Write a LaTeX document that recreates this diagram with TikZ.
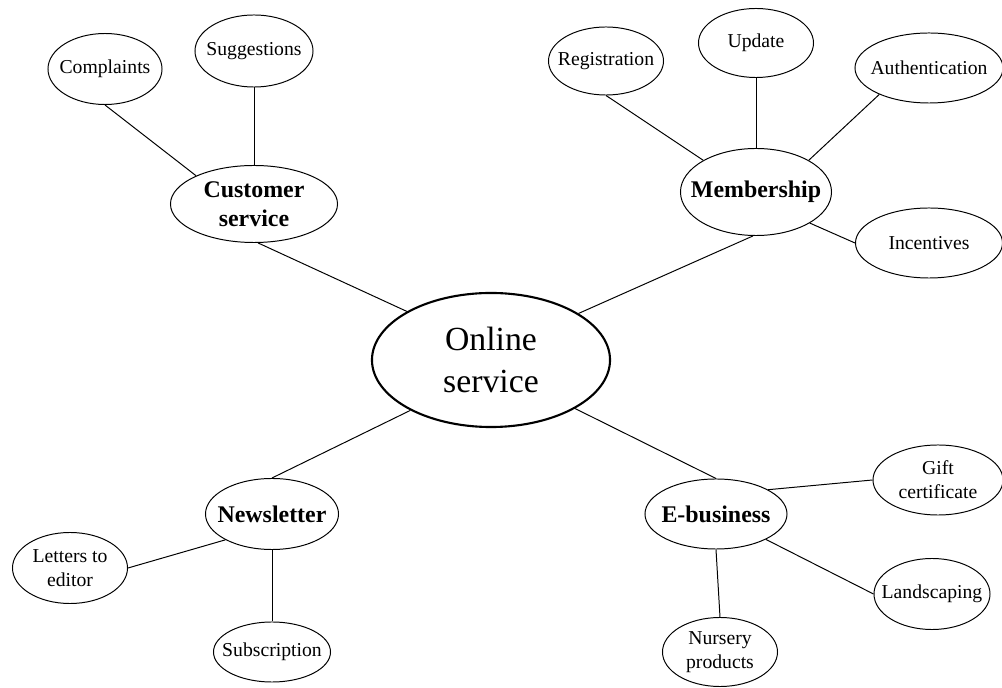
\documentclass[tikz,border=0pt]{standalone}
\usepackage{fontspec}
\setmainfont{Liberation Serif}
\usetikzlibrary{shapes.geometric}

\begin{document}
\begin{tikzpicture}[x=0.025cm,y=-0.025cm,
  bubble/.style={draw,ellipse,inner sep=-0.5cm,align=center,line width=0.7pt},
  leaf/.style={bubble,font=\fontsize{14}{17}\selectfont},
  branch/.style={bubble,font=\fontsize{17}{21}\selectfont\bfseries},
  hub/.style={bubble,line width=1.5pt,font=\fontsize{24}{30}\selectfont}]
\useasboundingbox (0,0) rectangle (1002,688);
% centre
\node[hub,minimum width=5.95cm,minimum height=3.35cm] (online) at (491,360) {Online\\service};
% branches
\node[branch,minimum width=4.175cm,minimum height=1.925cm] (custserv) at (254,204) {Customer\\service};
\node[branch,minimum width=3.775cm,minimum height=2.175cm] (member) at (756,192) {Membership};
\node[branch,minimum width=3.325cm,minimum height=1.775cm] (news) at (272,514) {Newsletter};
\node[branch,minimum width=3.55cm,minimum height=1.75cm] (ebiz) at (716,514) {E-business};
% leaves
\node[leaf,minimum width=2.85cm,minimum height=1.775cm] (complaints) at (105,69) {Complaints};
\node[leaf,minimum width=2.95cm,minimum height=1.8cm] (suggest) at (254,51) {Suggestions};
\node[leaf,minimum width=2.875cm,minimum height=1.7cm] (regist) at (606,61) {Registration};
\node[leaf,minimum width=2.875cm,minimum height=1.725cm] (update) at (756,43) {Update};
\node[leaf,minimum width=3.7cm,minimum height=1.75cm] (auth) at (929,68) {Authentication};
\node[leaf,minimum width=3.675cm,minimum height=1.75cm] (incent) at (929,243) {Incentives};
\node[leaf,minimum width=2.875cm,minimum height=1.775cm] (letters) at (70,568) {Letters to\\editor};
\node[leaf,minimum width=2.925cm,minimum height=1.5cm] (subscr) at (272,652) {Subscription};
\node[leaf,minimum width=3.25cm,minimum height=1.75cm] (gift) at (938,480) {Gift\\certificate};
\node[leaf,minimum width=2.9cm,minimum height=1.775cm] (landsc) at (932,594) {Landscaping};
\node[leaf,minimum width=2.875cm,minimum height=1.725cm] (nursery) at (720,652) {Nursery\\products};
% connectors
\foreach \a/\b in {custserv.276/online.150, member.266/online.28,
    news.north/online.212, ebiz.north/online.330,
    complaints.south/custserv.154, suggest.south/custserv.north,
    regist.south/member.149, update.south/member.north,
    auth.208/member.31, member.330/incent.west,
    letters.east/news.209, news.south/subscr.north,
    ebiz.25/gift.west, ebiz.333/landsc.west, ebiz.south/nursery.north}
  \draw[line width=0.7pt] (\a) -- (\b);
\end{tikzpicture}
\end{document}
